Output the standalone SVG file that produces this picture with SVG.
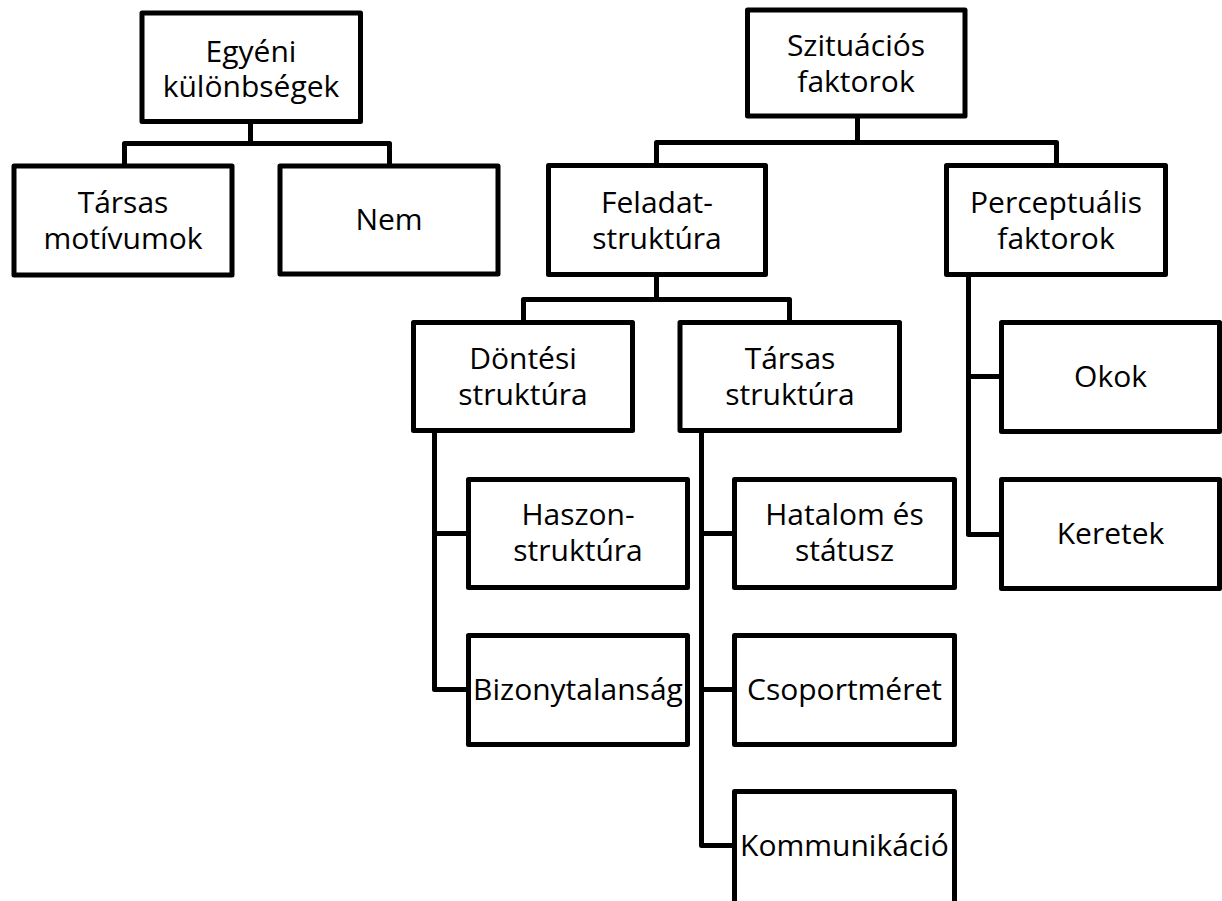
<svg xmlns="http://www.w3.org/2000/svg" width="1222" height="901" viewBox="0 0 1222 901">
<style>
.box{fill:#fff;stroke:#000;stroke-width:5;stroke-linejoin:round}
.conn{fill:none;stroke:#000;stroke-width:5;stroke-linejoin:round}
text{font-family:"Open Sans","Liberation Sans",sans-serif;font-size:30px;fill:#000;text-anchor:middle}
</style>
<rect width="1222" height="901" fill="#fff"/>
<g id="connectors">
<path class="conn" d="M250.5 121.5 V143.5 M124.5 166 V143.5 H389.5 V166"/>
<path class="conn" d="M857.5 116 V142.5 M656.5 165.5 V142.5 H1056.5 V165.5"/>
<path class="conn" d="M656.5 274.5 V299.5 M523.5 322.5 V299.5 H789.5 V322.5"/>
<path class="conn" d="M434.5 430.5 V689.5 H468.5 M434.5 533.5 H468.5"/>
<path class="conn" d="M701.5 430.5 V845.5 H734.5 M701.5 533.5 H734.5 M701.5 689.5 H734.5"/>
<path class="conn" d="M968.5 274.5 V534.5 H1001.5 M968.5 376.5 H1001.5"/>
</g>
<g id="n-egyeni"><rect class="box" x="142" y="13" width="218.5" height="108.5"/><text x="251" y="62">Egyéni</text><text x="251" y="97">különbségek</text></g>
<g id="n-tarsas-motivumok"><rect class="box" x="14" y="166" width="218" height="109"/><text x="123" y="213">Társas</text><text x="123" y="249">motívumok</text></g>
<g id="n-nem"><rect class="box" x="280" y="166" width="218" height="108"/><text x="389" y="230">Nem</text></g>
<g id="n-szituacios"><rect class="box" x="747.5" y="10" width="217.5" height="106"/><text x="856" y="56">Szituációs</text><text x="856" y="92">faktorok</text></g>
<g id="n-feladat"><rect class="box" x="548.5" y="165.5" width="217" height="109"/><text x="657" y="213">Feladat-</text><text x="657" y="249">struktúra</text></g>
<g id="n-perceptualis"><rect class="box" x="946.5" y="165.5" width="219" height="109"/><text x="1056" y="213">Perceptuális</text><text x="1056" y="249">faktorok</text></g>
<g id="n-dontesi"><rect class="box" x="413.5" y="322.5" width="219" height="108"/><text x="523" y="369">Döntési</text><text x="523" y="405">struktúra</text></g>
<g id="n-tarsas-struktura"><rect class="box" x="680" y="322.5" width="219.5" height="108"/><text x="790" y="369">Társas</text><text x="790" y="405">struktúra</text></g>
<g id="n-haszon"><rect class="box" x="468.5" y="479.5" width="219" height="108"/><text x="578" y="525">Haszon-</text><text x="578" y="561">struktúra</text></g>
<g id="n-bizonytalansag"><rect class="box" x="468.5" y="635.5" width="219" height="109"/><text x="578" y="700">Bizonytalanság</text></g>
<g id="n-hatalom"><rect class="box" x="734.5" y="479.5" width="220" height="108"/><text x="844.5" y="525">Hatalom és</text><text x="844.5" y="561">státusz</text></g>
<g id="n-csoportmeret"><rect class="box" x="734.5" y="635.5" width="220" height="109"/><text x="844.5" y="700">Csoportméret</text></g>
<g id="n-kommunikacio"><rect class="box" x="734.5" y="791.5" width="220" height="120"/><text x="844.5" y="856">Kommunikáció</text></g>
<g id="n-okok"><rect class="box" x="1001.5" y="322.5" width="218" height="109"/><text x="1110.5" y="387">Okok</text></g>
<g id="n-keretek"><rect class="box" x="1001.5" y="479.5" width="218" height="109"/><text x="1110.5" y="544">Keretek</text></g>
</svg>
